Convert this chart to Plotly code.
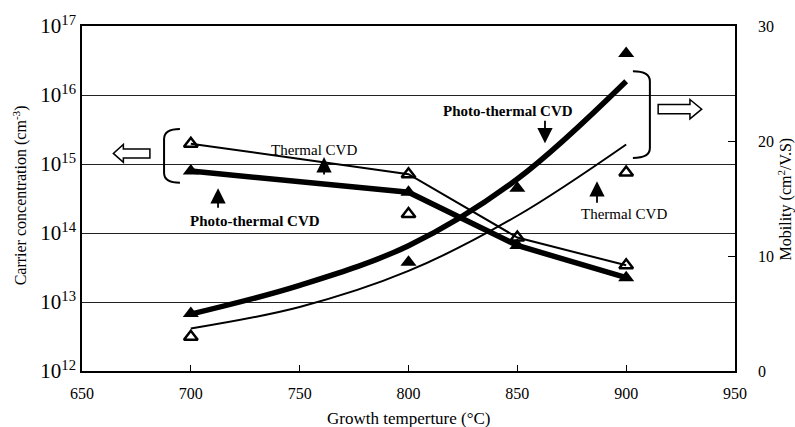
import plotly.graph_objects as go

# Growth temperatures (°C)
temps = [700, 800, 850, 900]

# Carrier concentration (cm^-3), left axis
carrier_thermal = [1.97e15, 7.1e14, 8.6e13, 3.4e13]
carrier_photo = [7.9e14, 3.9e14, 6.6e13, 2.25e13]

# Measured mobility (cm^2/V.S), right axis
mob_temps_photo = [700, 800, 850, 900]
mob_photo = [5.0, 9.46, 15.9, 27.6]
mob_temps_thermal = [700, 800, 900]
mob_thermal = [2.97, 13.65, 17.26]

# Fitted mobility trend curves
curve_temps = [700, 750, 800, 850, 900]
curve_photo = [4.95, 7.45, 10.9, 16.7, 25.2]
curve_thermal = [3.7, 5.57, 8.7, 13.5, 19.7]

# Axis tick labels
x_ticks = [650, 700, 750, 800, 850, 900, 950]
y_exponents = [12, 13, 14, 15, 16, 17]
y2_ticks = [0, 10, 20, 30]

FONT = "Liberation Serif"

fig = go.Figure()

# Mobility trend curves (right axis)
fig.add_trace(go.Scatter(x=curve_temps, y=curve_thermal, yaxis="y2", mode="lines",
                         line=dict(color="black", width=2, shape="spline"), showlegend=False))
fig.add_trace(go.Scatter(x=curve_temps, y=curve_photo, yaxis="y2", mode="lines",
                         line=dict(color="black", width=5.5, shape="spline"), showlegend=False))

# Carrier concentration lines (left axis)
fig.add_trace(go.Scatter(x=temps, y=carrier_thermal, mode="lines+markers",
                         line=dict(color="black", width=2),
                         marker=dict(symbol="triangle-up-open", size=12, color="black",
                                     line=dict(width=2.5, color="black")),
                         showlegend=False))
fig.add_trace(go.Scatter(x=temps, y=carrier_photo, mode="lines+markers",
                         line=dict(color="black", width=5.5),
                         marker=dict(symbol="triangle-up", size=14, color="black"),
                         showlegend=False))

# Mobility data points
fig.add_trace(go.Scatter(x=mob_temps_thermal, y=mob_thermal, yaxis="y2", mode="markers",
                         marker=dict(symbol="triangle-up-open", size=12, color="black",
                                     line=dict(width=2.5, color="black")),
                         showlegend=False))
fig.add_trace(go.Scatter(x=mob_temps_photo, y=mob_photo, yaxis="y2", mode="markers",
                         marker=dict(symbol="triangle-up", size=14, color="black"),
                         showlegend=False))

# Brackets grouping each family of curves
fig.add_shape(type="path", xref="x", yref="y2",
              path="M 695.0,21.04 Q 687.7,21.04 687.7,20.17 L 687.7,17.23 Q 687.7,16.36 695.0,16.36",
              line=dict(color="black", width=2))
fig.add_shape(type="path", xref="x", yref="y2",
              path="M 903.1,26.06 Q 910.9,26.06 910.9,25.19 L 910.9,19.39 Q 910.9,18.53 903.1,18.53",
              line=dict(color="black", width=2))

# Hollow arrows pointing to the relevant axis
fig.add_shape(type="path", xref="x", yref="y2",
              path="M 681.2,19.31 L 669.0,19.31 L 669.0,19.70 L 664.4,18.92 L 669.0,18.14 "
                   "L 669.0,18.53 L 681.2,18.53 Z",
              line=dict(color="black", width=1.5), fillcolor="white")
fig.add_shape(type="path", xref="x", yref="y2",
              path="M 914.7,23.18 L 929.3,23.18 L 929.3,23.61 L 934.7,22.77 L 929.3,21.93 "
                   "L 929.3,22.36 L 914.7,22.36 Z",
              line=dict(color="black", width=1.5), fillcolor="white")

# Curve labels with pointer arrows
labels = [
    dict(text="Thermal CVD", x=756.8, y=19.25, bold=False),
    dict(text="Photo-thermal CVD", x=729.5, y=13.05, bold=True),
    dict(text="Photo-thermal CVD", x=845.9, y=22.6, bold=True),
    dict(text="Thermal CVD", x=899.2, y=13.65, bold=False),
]
for lb in labels:
    txt = f"<b>{lb['text']}</b>" if lb["bold"] else lb["text"]
    fig.add_annotation(x=lb["x"], y=lb["y"], xref="x", yref="y2", text=txt, showarrow=False,
                       font=dict(family=FONT, size=15, color="black"))

pointers = [
    dict(x=761.2, y=18.6, ay=19),
    dict(x=712.5, y=15.9, ay=21),
    dict(x=862.7, y=19.8, ay=-24),
    dict(x=886.6, y=16.5, ay=23),
]
for p in pointers:
    fig.add_annotation(x=p["x"], y=p["y"], xref="x", yref="y2", text="", showarrow=True,
                       ax=0, ay=p["ay"], arrowhead=2, arrowsize=1.7, arrowwidth=1.8,
                       arrowcolor="black")

# Axis titles
fig.add_annotation(x=-0.095, y=0.509, xref="paper", yref="paper", textangle=-90,
                   xanchor="center", yanchor="middle",
                   text="Carrier concentration (cm<sup>-3</sup>)", showarrow=False,
                   font=dict(family=FONT, size=16, color="black"))
fig.add_annotation(x=1.0775, y=0.499, xref="paper", yref="paper", textangle=-90,
                   xanchor="center", yanchor="middle", borderpad=0,
                   text="Mobility (cm<sup>2</sup>/V.S)", showarrow=False,
                   font=dict(family=FONT, size=16, color="black"))
fig.add_annotation(x=0.5006, y=-0.1385, xref="paper", yref="paper",
                   xanchor="center", yanchor="middle",
                   text="Growth temperture (°C)", showarrow=False,
                   font=dict(family=FONT, size=17, color="black"))

fig.update_layout(
    width=795, height=427,
    margin=dict(l=82, r=60, t=24, b=56),
    paper_bgcolor="white", plot_bgcolor="white",
    font=dict(family=FONT, color="black"),
    xaxis=dict(range=[650, 950], tickvals=x_ticks, ticks="inside", ticklen=6,
               tickwidth=1.2, tickcolor="black", showgrid=False, zeroline=False,
               showline=True, linecolor="black", linewidth=1.5, mirror=True,
               ticklabelstandoff=7,
               tickfont=dict(family=FONT, size=16, color="black")),
    yaxis=dict(type="log", range=[12, 17], tickvals=[10 ** e for e in y_exponents],
               ticktext=[f"10<sup>{e}</sup>" for e in y_exponents],
               ticks="", showgrid=True, gridcolor="#222222", gridwidth=1.2,
               zeroline=False, showline=True, linecolor="black", linewidth=1.5,
               tickfont=dict(family=FONT, size=21, color="black")),
    yaxis2=dict(overlaying="y", side="right", range=[0, 30], tickvals=y2_ticks,
                ticks="inside", ticklen=7, tickwidth=1.2, tickcolor="black",
                showgrid=False, zeroline=False, showline=True, linecolor="black",
                linewidth=1.5, ticklabelstandoff=18,
                tickfont=dict(family=FONT, size=16, color="black")),
)

fig.write_html("out.html")
